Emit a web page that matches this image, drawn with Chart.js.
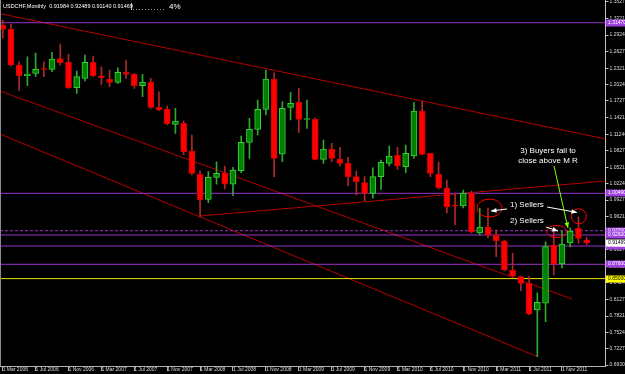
<!DOCTYPE html>
<html>
<head>
<meta charset="utf-8">
<title>USDCHF Monthly</title>
<script src="https://cdn.jsdelivr.net/npm/chart.js@4.4.1/dist/chart.umd.min.js"></script>
<style>
  html, body { margin: 0; padding: 0; background: #000; }
  canvas { display: block; }
</style>
</head>
<body>
<canvas id="chart" width="625" height="374"></canvas>
<script>
// USDCHF mensile, una candela per mese da mar 2006 a feb 2012
const openP = [1.3106,1.3027,1.2379,1.2185,1.2228,1.2305,1.2301,1.2494,1.2428,1.1967,
    1.2138,1.2428,1.2185,1.2119,1.2065,1.2247,1.2210,1.2003,1.2065,1.1611,
    1.1580,1.1302,1.1320,1.0818,1.0394,0.9940,1.0340,1.0412,1.0213,1.0460,
    1.0975,1.1211,1.1575,1.2125,1.0758,1.1611,1.1702,1.1390,1.1393,1.0667,
    1.0854,1.0672,1.0594,1.0351,1.0242,1.0049,1.0351,1.0594,1.0745,1.0533,
    1.0727,1.1544,1.0776,1.0400,1.0146,0.9821,0.9819,1.0055,0.9328,0.9437,
    0.9292,0.9183,0.8657,0.8535,0.8415,0.7930,0.8052,0.9110,0.8765,0.9147,
    0.9414,0.91984];
const highP = [1.3196,1.3124,1.2439,1.2530,1.2597,1.2439,1.2610,1.2761,1.2579,1.2270,
    1.2561,1.2543,1.2348,1.2288,1.2330,1.2470,1.2225,1.2210,1.2138,1.1894,
    1.1635,1.1593,1.1362,1.1108,1.0454,1.0442,1.0623,1.0545,1.0521,1.1090,
    1.1411,1.1744,1.2288,1.2239,1.1713,1.1883,1.1956,1.1744,1.1422,1.1017,
    1.0957,1.0885,1.0703,1.0454,1.0351,1.0514,1.0654,1.0908,1.0885,1.0926,
    1.1695,1.1725,1.0781,1.0623,1.0291,1.0055,1.0109,1.0091,0.9782,0.9782,
    0.9383,0.9201,0.8960,0.8547,0.8535,0.8244,0.9170,0.9419,0.9365,0.9419,
    0.9624,0.92489];
const lowP = [1.2869,1.2361,1.1912,1.2003,1.2167,1.2167,1.2258,1.2379,1.1956,1.1865,
    1.2089,1.2167,1.2029,1.1985,1.2047,1.2138,1.1956,1.1804,1.1593,1.1549,
    1.1295,1.1139,1.0745,1.0382,0.9624,0.9879,1.0213,1.0127,1.0006,1.0423,
    1.0685,1.1108,1.1471,1.0351,1.0623,1.1380,1.1150,1.1230,1.0654,1.0594,
    1.0623,1.0545,1.0182,1.0019,0.9915,0.9959,1.0122,1.0545,1.0485,1.0423,
    1.0685,1.0745,1.0351,1.0127,0.9692,0.9474,0.9782,0.9328,0.9292,0.9237,
    0.8898,0.8638,0.8535,0.8281,0.7845,0.7082,0.7717,0.8566,0.8693,0.9074,
    0.9141,0.91140];
const closeP = [1.3024,1.2379,1.2185,1.2216,1.2301,1.2298,1.2488,1.2421,1.1967,1.2167,
    1.2428,1.2185,1.2149,1.2065,1.2247,1.2210,1.2003,1.2070,1.1611,1.1562,
    1.1308,1.1362,1.0805,1.0412,0.9928,1.0340,1.0412,1.0213,1.0472,1.0975,
    1.1211,1.1575,1.2125,1.0685,1.1593,1.1684,1.1393,1.1395,1.0667,1.0854,
    1.0685,1.0594,1.0351,1.0260,1.0049,1.0351,1.0612,1.0727,1.0545,1.0776,
    1.1544,1.0757,1.0412,1.0151,0.9801,0.9816,1.0055,0.9346,0.9437,0.9292,
    0.9183,0.8657,0.8548,0.8415,0.7857,0.8070,0.9080,0.8765,0.9129,0.9365,
    0.9232,0.91469];

// etichette dell'asse del tempo (indice della candela)
const xTickIdx = [0, 4, 8, 12, 16, 20, 24, 28, 32, 36, 40, 44, 48, 52, 56, 60, 64, 68];
const xTickLabels = ['1 Mar 2006', '1 Jul 2006', '1 Nov 2006', '1 Mar 2007', '1 Jul 2007', '1 Nov 2007',
    '1 Mar 2008', '1 Jul 2008', '1 Nov 2008', '1 Mar 2009', '1 Jul 2009', '1 Nov 2009',
    '1 Mar 2010', '1 Jul 2010', '1 Nov 2010', '1 Mar 2011', '1 Jul 2011', '1 Nov 2011'];

// etichette dell'asse dei prezzi
const priceTicks = [0.69300, 0.72270, 0.75240, 0.78210, 0.81270, 0.84240, 0.87210, 0.90270,
    0.93240, 0.96210, 0.99270, 1.02240, 1.05210, 1.08270, 1.11240, 1.14210, 1.17270,
    1.20240, 1.23210, 1.26270, 1.29240, 1.32210, 1.35270];

// livelli orizzontali
const levelPrices = [1.3147, 1.0049, 0.9370, 0.9292, 0.9092, 0.8760];
const levelDashed = [false, false, true, false, false, false];
const yellowLevel = 0.85000;
const lastPrice = 0.91469;

// linee di tendenza: [indice, prezzo] inizio e fine
const trendLines = [
    [[-0.328, 1.3313], [73.29, 1.1037]],
    [[-0.328, 1.1907], [69.22, 0.8130]],
    [[-0.328, 1.1126], [64.96, 0.7086]],
    [[24.0, 0.9637], [73.29, 1.0273]]
];

// note sul grafico (indice, prezzo)
const noteTexts = [
    ['1) Sellers', 61.68, 0.9801, 'left'],
    ['2) Sellers', 61.68, 0.9510, 'left'],
    ['3) Buyers fail to', 66.30, 1.0781, 'center'],
    ['close above M R', 66.30, 1.0600, 'center']
];
const noteRings = [[59.19, 0.9782, 12.5, 9], [67.36, 0.9356, 10, 6], [70.04, 0.9632, 7.5, 7.5]];
const noteArrows = [
    [61.31, 0.9764, 59.37, 0.9728, '#ffffff'],
    [66.18, 0.9801, 69.82, 0.9701, '#ffffff'],
    [66.05, 0.9437, 67.51, 0.9365, '#ffffff'],
    [67.03, 1.0545, 68.73, 0.9419, '#7fff00']
];

const xMin = -0.328, xMax = 73.29;
const yMin = 0.6913, yMax = 1.3560;

Chart.defaults.font.family = "'Liberation Sans', Arial, sans-serif";

const idx = openP.map((_, i) => i);
const isUp = idx.map(i => closeP[i] >= openP[i]);

const datasets = [];

// corpi delle candele
datasets.push({
    data: idx.map(i => ({ x: i, y: [openP[i], closeP[i]] })),
    backgroundColor: idx.map(i => isUp[i] ? '#008000' : '#ff0000'),
    borderColor: idx.map(i => isUp[i] ? '#3dcc3d' : '#d40000'),
    borderWidth: 1,
    borderSkipped: false,
    barThickness: 6,
    minBarLength: 1,
    grouped: false,
    order: 0
});
// ombre
datasets.push({
    data: idx.map(i => ({ x: i, y: [lowP[i], highP[i]] })),
    backgroundColor: idx.map(i => isUp[i] ? '#2fa82f' : '#b02828'),
    borderWidth: 0,
    barThickness: 1,
    grouped: false,
    order: 1
});
levelPrices.forEach((p, k) => {
    datasets.push({
        type: 'line',
        data: [{ x: xMin, y: p }, { x: xMax, y: p }],
        borderColor: '#9932cc',
        borderWidth: 1,
        borderDash: levelDashed[k] ? [3, 2] : [],
        pointRadius: 0,
        order: 2
    });
});
datasets.push({
    type: 'line',
    data: [{ x: xMin, y: yellowLevel }, { x: xMax, y: yellowLevel }],
    borderColor: '#e6e600',
    borderWidth: 1,
    pointRadius: 0,
    order: 2
});
trendLines.forEach(seg => {
    datasets.push({
        type: 'line',
        data: seg.map(p => ({ x: p[0], y: p[1] })),
        borderColor: '#b40000',
        borderWidth: 1,
        pointRadius: 0,
        order: 3
    });
});

function arrow(ctx, x1, y1, x2, y2, color) {
    const a = Math.atan2(y2 - y1, x2 - x1);
    ctx.strokeStyle = color;
    ctx.fillStyle = color;
    ctx.lineWidth = 1;
    ctx.beginPath();
    ctx.moveTo(x1, y1);
    ctx.lineTo(x2, y2);
    ctx.stroke();
    ctx.beginPath();
    ctx.moveTo(x2, y2);
    ctx.lineTo(x2 - 6 * Math.cos(a - 0.4), y2 - 6 * Math.sin(a - 0.4));
    ctx.lineTo(x2 - 6 * Math.cos(a + 0.4), y2 - 6 * Math.sin(a + 0.4));
    ctx.closePath();
    ctx.fill();
}

function priceTag(ctx, yPix, text, bg, fg) {
    ctx.fillStyle = bg;
    ctx.fillRect(606, Math.round(yPix) - 3.5, 19, 7);
    ctx.fillStyle = fg;
    ctx.font = "5px 'Liberation Sans', Arial, sans-serif";
    ctx.textBaseline = 'middle';
    ctx.textAlign = 'left';
    ctx.fillText(text, 608, Math.round(yPix));
}

const decorPlugin = {
    id: 'decor',
    beforeDraw(chart) {
        const ctx = chart.ctx;
        ctx.save();
        ctx.fillStyle = '#000';
        ctx.fillRect(0, 0, chart.width, chart.height);
        ctx.restore();
    },
    afterDatasetsDraw(chart) {
        const { ctx, scales: { x, y } } = chart;
        ctx.save();
        noteRings.forEach(r => {
            ctx.strokeStyle = '#ff0000';
            ctx.lineWidth = 1;
            ctx.beginPath();
            ctx.ellipse(x.getPixelForValue(r[0]), y.getPixelForValue(r[1]), r[2], r[3], 0, 0, Math.PI * 2);
            ctx.stroke();
        });
        noteArrows.forEach(a => {
            arrow(ctx, x.getPixelForValue(a[0]), y.getPixelForValue(a[1]),
                x.getPixelForValue(a[2]), y.getPixelForValue(a[3]), a[4]);
        });
        ctx.fillStyle = '#ffffff';
        ctx.font = "8px 'Liberation Sans', Arial, sans-serif";
        ctx.textBaseline = 'alphabetic';
        noteTexts.forEach(t => {
            ctx.textAlign = t[3];
            ctx.fillText(t[0], x.getPixelForValue(t[1]), y.getPixelForValue(t[2]));
        });
        ctx.restore();
    },
    afterDraw(chart) {
        const { ctx, scales: { y }, chartArea } = chart;
        ctx.save();
        // bordo sinistro
        ctx.strokeStyle = '#8a8a8a';
        ctx.lineWidth = 1;
        ctx.beginPath();
        ctx.moveTo(0.5, 0);
        ctx.lineTo(0.5, chartArea.bottom);
        ctx.stroke();

        levelPrices.forEach(p => priceTag(ctx, y.getPixelForValue(p), p.toFixed(5), '#a040e0', '#ffffff'));
        priceTag(ctx, y.getPixelForValue(yellowLevel), yellowLevel.toFixed(5), '#ffff00', '#000000');
        priceTag(ctx, y.getPixelForValue(lastPrice), lastPrice.toFixed(5), '#ffffff', '#000000');

        // intestazione
        ctx.fillStyle = '#ffffff';
        ctx.font = "5.5px 'Liberation Sans', Arial, sans-serif";
        ctx.textBaseline = 'middle';
        ctx.textAlign = 'left';
        ctx.fillText('USDCHF,Monthly  ' + [openP[71], highP[71], lowP[71], closeP[71]].map(v => v.toFixed(5)).join(' '), 3, 6);
        ctx.strokeStyle = '#d0d0d0';
        ctx.beginPath();
        ctx.moveTo(131.5, 3);
        ctx.lineTo(131.5, 10);
        ctx.stroke();
        ctx.setLineDash([1, 2]);
        ctx.strokeStyle = '#909090';
        ctx.beginPath();
        ctx.moveTo(133, 9.5);
        ctx.lineTo(166, 9.5);
        ctx.stroke();
        ctx.setLineDash([]);
        ctx.fillStyle = '#ffffff';
        ctx.font = "8px 'Liberation Sans', Arial, sans-serif";
        ctx.fillText('4%', 169, 6.5);
        ctx.restore();
    }
};

new Chart(document.getElementById('chart').getContext('2d'), {
    type: 'bar',
    data: { datasets: datasets },
    plugins: [decorPlugin],
    options: {
        responsive: false,
        devicePixelRatio: 1,
        animation: false,
        events: [],
        layout: { padding: 0 },
        plugins: { legend: { display: false }, tooltip: { enabled: false } },
        scales: {
            x: {
                type: 'linear',
                position: 'bottom',
                offset: false,
                min: xMin,
                max: xMax,
                afterBuildTicks: s => { s.ticks = xTickIdx.map(v => ({ value: v })); },
                afterFit: s => { s.height = 8; s.paddingLeft = 0; s.paddingRight = 0; },
                grid: { offset: false, drawOnChartArea: false, drawTicks: true, tickLength: 5, color: '#b0b0b0' },
                border: { display: true, color: '#b0b0b0' },
                ticks: {
                    autoSkip: false,
                    maxRotation: 0,
                    minRotation: 0,
                    align: 'start',
                    padding: -4.5,
                    color: '#dcdcdc',
                    font: { size: 5 },
                    callback: (v, k) => xTickLabels[k]
                }
            },
            y: {
                type: 'linear',
                position: 'right',
                min: yMin,
                max: yMax,
                afterBuildTicks: s => { s.ticks = priceTicks.map(v => ({ value: v })); },
                afterFit: s => { s.width = 19.5; s.paddingTop = 0; s.paddingBottom = 0; },
                grid: { drawOnChartArea: false, drawTicks: true, tickLength: 3, color: '#c0c0c0' },
                border: { display: true, color: '#c0c0c0' },
                ticks: {
                    autoSkip: false,
                    padding: 1,
                    color: '#dcdcdc',
                    font: { size: 5 },
                    callback: v => v.toFixed(5)
                }
            }
        }
    }
});
</script>
</body>
</html>
